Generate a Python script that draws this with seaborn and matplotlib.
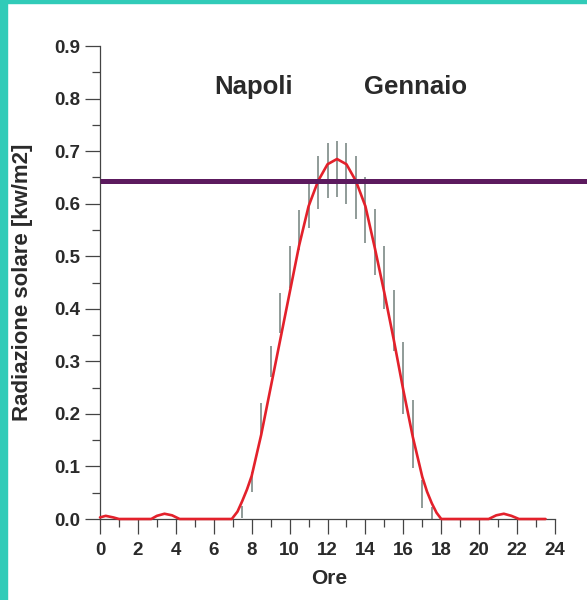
import matplotlib
matplotlib.use("Agg")
import matplotlib.pyplot as plt
import seaborn as sns
import pandas as pd
from matplotlib.patches import Rectangle

# ---- data ----
curve_x = [0, 0.3, 0.7, 1, 2, 2.7, 3.0, 3.4, 3.8, 4.2, 5, 6, 6.5, 6.95,
           7.25, 7.5, 7.75, 8, 8.5, 9, 9.5, 10, 10.5, 11, 11.5, 12, 12.5,
           13, 13.5, 14, 14.5, 15, 15.5, 16, 16.5, 17, 17.25, 17.5, 17.75,
           18.0, 19, 20, 20.5, 20.9, 21.3, 21.7, 22.1, 23, 23.5]
curve_y = [0.003, 0.006, 0.003, 0, 0, 0, 0.006, 0.01, 0.007, 0, 0, 0, 0, 0,
           0.014, 0.034, 0.056, 0.082, 0.16, 0.25, 0.34, 0.43, 0.52, 0.595,
           0.643, 0.675, 0.685, 0.675, 0.643, 0.595, 0.515, 0.43, 0.34,
           0.245, 0.156, 0.08, 0.052, 0.03, 0.012, 0, 0, 0, 0, 0.007,
           0.01, 0.006, 0, 0, 0]

bar_x = [7.5, 8, 8.5, 9, 9.5, 10, 10.5, 11, 11.5, 12, 12.5, 13, 13.5,
         14, 14.5, 15, 15.5, 16, 16.5, 17, 17.5]
bar_low = [0.002, 0.052, 0.16, 0.27, 0.354, 0.44, 0.512, 0.554, 0.59,
           0.61, 0.613, 0.60, 0.57, 0.525, 0.464, 0.40, 0.32, 0.20,
           0.097, 0.02, 0.0]
bar_high = [0.025, 0.09, 0.22, 0.33, 0.43, 0.52, 0.588, 0.64, 0.69,
            0.715, 0.72, 0.715, 0.69, 0.65, 0.59, 0.52, 0.435, 0.337,
            0.226, 0.074, 0.023]

threshold = 0.643
x_ticks = list(range(0, 25, 2))
y_ticks = [0.0, 0.1, 0.2, 0.3, 0.4, 0.5, 0.6, 0.7, 0.8, 0.9]
labels_text = ["Napoli", "Gennaio"]

# ---- drawing ----
sns.set_style("ticks")
plt.rcParams['font.family'] = ['Liberation Sans', 'DejaVu Sans']
plt.rcParams['font.weight'] = 'bold'

fig = plt.figure(figsize=(5.87, 6.00), dpi=100)
ax = fig.add_axes([0.1704, 0.135, 0.7751, 0.7883])

text_col = "#2a2a2a"
axis_col = "#444444"

ax.vlines(bar_x, bar_low, bar_high, colors="#7d8a86", linewidth=1.2, zorder=2)

df = pd.DataFrame({"x": curve_x, "y": curve_y})
sns.lineplot(data=df, x="x", y="y", ax=ax, color="#e3212b", linewidth=1.9,
             zorder=3, clip_on=False)

ax.plot([0, 25.8], [threshold, threshold], color="#5c1a5e", linewidth=3.6,
        solid_capstyle="butt", clip_on=False, zorder=4)

ax.set_xlim(0, 24)
ax.set_ylim(0, 0.9)
ax.set_xticks(x_ticks)
ax.set_xticks(range(0, 25), minor=True)
ax.set_yticks(y_ticks)
ax.set_yticks([i * 0.05 for i in range(19)], minor=True)
ax.set_yticklabels([f"{v:.1f}" for v in y_ticks])

for s in ["top", "right"]:
    ax.spines[s].set_visible(False)
for s in ["left", "bottom"]:
    ax.spines[s].set_color(axis_col)
    ax.spines[s].set_linewidth(0.9)

ax.tick_params(axis="both", which="major", length=10.5, width=0.9,
               color=axis_col, labelsize=13.5, labelcolor=text_col)
ax.tick_params(axis="x", which="major", pad=6)
ax.tick_params(axis="y", which="major", pad=4)
ax.tick_params(axis="both", which="minor", length=6, width=0.9,
               color=axis_col)
for lab in ax.get_xticklabels() + ax.get_yticklabels():
    lab.set_fontweight("bold")

ax.set_xlabel("Ore", fontsize=15, fontweight="bold", color=text_col)
ax.set_ylabel("Radiazione solare [kw/m2]", fontsize=16, fontweight="bold",
              color=text_col)
ax.xaxis.set_label_coords(0.503, -0.105)
ax.yaxis.set_label_coords(-0.148, 0.5)

ax.text(6.05, 0.822, labels_text[0], fontsize=18.5, fontweight="bold",
        color=text_col, ha="left", va="center")
ax.text(13.95, 0.822, labels_text[1], fontsize=18.5, fontweight="bold",
        color=text_col, ha="left", va="center")

# teal frame (left and top strips)
teal = "#31cbb8"
fig.patches.append(Rectangle((0, 0), 7 / 587, 1, transform=fig.transFigure,
                             color=teal, zorder=10))
fig.patches.append(Rectangle((0, 1 - 2.5 / 600), 1, 2.5 / 600,
                             transform=fig.transFigure, color=teal, zorder=10))

fig.savefig("out.png", dpi=100)
